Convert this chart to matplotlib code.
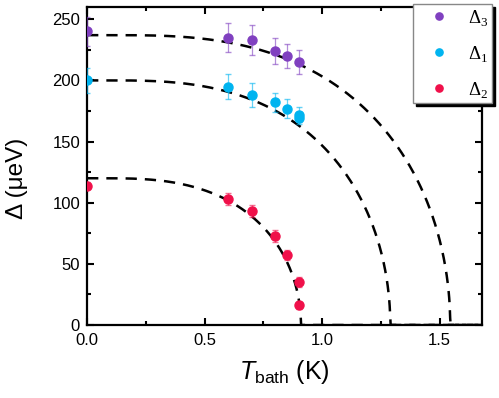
import numpy as np
import matplotlib
matplotlib.use('Agg')
import matplotlib.pyplot as plt
from matplotlib.ticker import MultipleLocator

plt.rcParams['font.family'] = 'Liberation Sans'
plt.rcParams['mathtext.fontset'] = 'custom'
plt.rcParams['mathtext.rm'] = 'Liberation Serif'
plt.rcParams['mathtext.it'] = 'Liberation Sans:italic'
plt.rcParams['mathtext.sf'] = 'Liberation Sans'

# Données (T en K, gaps en µeV)
T_d3 = [0.0, 0.6, 0.7, 0.8, 0.85, 0.9]
d3 = [240, 235, 233, 224, 220, 215]
err_d3 = [12, 12, 12, 11, 10, 10]

T_d1 = [0.0, 0.6, 0.7, 0.8, 0.85, 0.9, 0.9]
d1 = [200, 195, 188, 182, 177, 172, 169]
err_d1 = [10, 10, 10, 8, 8, 6, 5]

T_d2 = [0.0, 0.6, 0.7, 0.8, 0.85, 0.9, 0.9]
d2 = [114, 103, 93, 73, 57, 35, 16]
err_d2 = [3, 5, 5, 5, 4, 4, 3]

# paramètres des courbes BCS (pointillés)
gap0 = [237, 200, 120]
Tc = [1.545, 1.29, 0.91]

purple = '#8040C0'
cyan = '#00B4F0'
red = '#F0104A'

fig = plt.figure(figsize=(4.99, 3.98), dpi=100)
ax = fig.add_axes([0.1743, 0.1834, 0.7916, 0.799])

T = np.linspace(0.0005, 1.7, 800)
for g0, tc in zip(gap0, Tc):
    g = np.zeros_like(T)
    m = T < tc
    g[m] = g0 * np.tanh(1.74 * np.sqrt(tc / T[m] - 1))
    ax.plot(T, g, color='black', lw=1.8, dashes=(4.5, 3.2), zorder=2)

for Tx, y, e, c, lab in [(T_d3, d3, err_d3, purple, r'$\Delta_3$'),
                         (T_d1, d1, err_d1, cyan, r'$\Delta_1$'),
                         (T_d2, d2, err_d2, red, r'$\Delta_2$')]:
    ax.errorbar(Tx, y, yerr=e, fmt='none', ecolor=c, elinewidth=0.9,
                capsize=2.5, alpha=0.6, zorder=3)
    ax.plot(Tx, y, 'o', color=c, ms=6.5, label=lab, zorder=4)

ax.set_xlim(0, 1.68)
ax.set_ylim(0, 260)
ax.xaxis.set_major_locator(MultipleLocator(0.5))
ax.xaxis.set_minor_locator(MultipleLocator(0.25))
ax.yaxis.set_major_locator(MultipleLocator(50))
ax.yaxis.set_minor_locator(MultipleLocator(25))
ax.tick_params(which='both', direction='in', top=True, right=True,
               width=1.5, labelsize=12)
ax.tick_params(which='major', length=5)
ax.tick_params(which='minor', length=3)
ax.tick_params(axis='x', pad=6)
ax.tick_params(axis='y', pad=5)
for s in ax.spines.values():
    s.set_linewidth(1.6)

ax.set_xlabel(r'$\mathit{T}_{\mathsf{bath}}$ (K)', fontsize=18, labelpad=7)
ax.set_ylabel('Δ (μeV)', fontsize=17.5)
ax.yaxis.set_label_coords(-0.15, 0.46)

leg = fig.legend(loc='upper left', bbox_to_anchor=(413 / 499, 1 - 4 / 398),
                 prop={'size': 13.5}, frameon=True, fancybox=False,
                 shadow={'color': 'black', 'alpha': 1}, borderpad=0.2,
                 borderaxespad=0, labelspacing=0.85, handlelength=2.4,
                 handletextpad=0.35, markerscale=0.8)
leg.get_frame().set_edgecolor('#888888')
leg.get_frame().set_linewidth(1.0)

plt.savefig('out.png', dpi=100)
